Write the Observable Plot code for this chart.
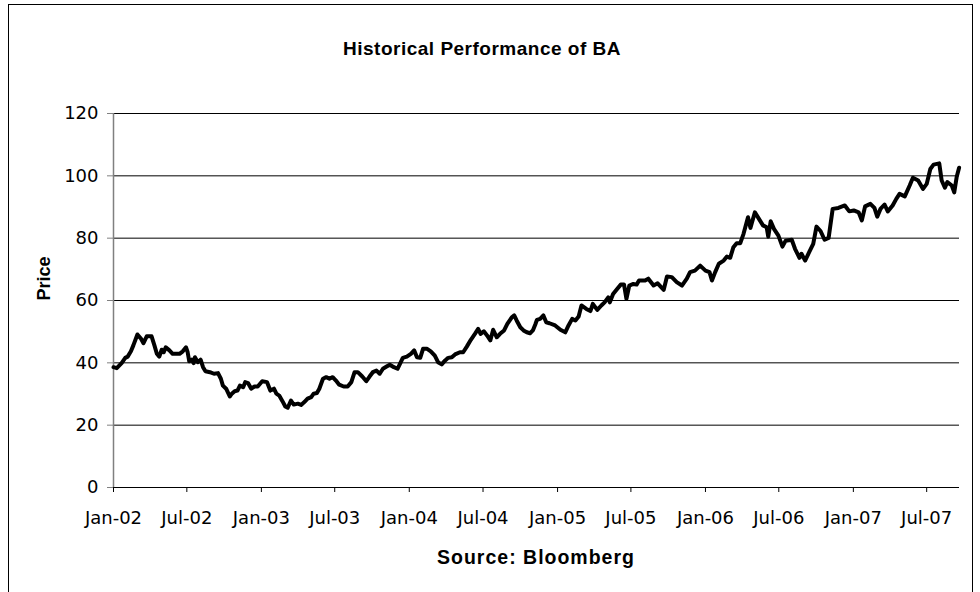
<!DOCTYPE html>
<html><head><meta charset="utf-8">
<script src="https://cdn.jsdelivr.net/npm/d3@7"></script>
<script src="https://cdn.jsdelivr.net/npm/@observablehq/plot@0.6"></script>
<style>
body{margin:0;background:#fff;}
#wrap{position:relative;width:980px;height:592px;overflow:hidden;background:#fff;}
#frame{position:absolute;left:8px;top:4px;width:965px;height:620px;border:1px solid #000;box-sizing:border-box;}
#title{position:absolute;left:0;width:964px;top:39px;text-align:center;font:bold 19px/19px "Liberation Sans",Arial,sans-serif;letter-spacing:0.5px;}
#chart{position:absolute;left:0;top:0;}
#source{position:absolute;left:113px;width:846px;top:548px;text-align:center;font:bold 19.5px/19.5px "Liberation Sans",Arial,sans-serif;letter-spacing:1px;}
</style></head>
<body>
<div id="wrap"><div id="frame"></div><div id="chart"></div>
<div id="title">Historical Performance of BA</div>
<div id="source">Source: Bloomberg</div></div>
<script>
const dates = ["2002-01-01","2002-01-09","2002-01-21","2002-01-30","2002-02-05","2002-02-13","2002-02-19","2002-03-01","2002-03-10","2002-03-16","2002-03-24","2002-04-05","2002-04-12","2002-04-18","2002-04-24","2002-04-30","2002-05-05","2002-05-10","2002-05-19","2002-05-27","2002-06-13","2002-06-21","2002-06-29","2002-07-03","2002-07-07","2002-07-13","2002-07-18","2002-07-21","2002-07-28","2002-08-04","2002-08-10","2002-08-16","2002-08-27","2002-09-06","2002-09-16","2002-09-23","2002-09-28","2002-10-06","2002-10-15","2002-10-20","2002-10-27","2002-11-03","2002-11-09","2002-11-17","2002-11-22","2002-11-29","2002-12-07","2002-12-15","2002-12-23","2003-01-03","2003-01-15","2003-01-23","2003-02-01","2003-02-07","2003-02-14","2003-02-22","2003-03-01","2003-03-07","2003-03-15","2003-03-22","2003-04-01","2003-04-09","2003-04-17","2003-04-25","2003-05-04","2003-05-10","2003-05-18","2003-05-24","2003-06-02","2003-06-10","2003-06-18","2003-06-26","2003-07-04","2003-07-12","2003-07-23","2003-08-02","2003-08-11","2003-08-19","2003-08-27","2003-09-07","2003-09-17","2003-09-25","2003-10-03","2003-10-12","2003-10-20","2003-10-28","2003-11-06","2003-11-14","2003-11-24","2003-12-03","2003-12-09","2003-12-16","2003-12-26","2004-01-05","2004-01-13","2004-01-20","2004-01-28","2004-02-04","2004-02-14","2004-02-23","2004-03-04","2004-03-12","2004-03-21","2004-03-29","2004-04-06","2004-04-15","2004-04-23","2004-05-05","2004-05-13","2004-05-22","2004-06-01","2004-06-11","2004-06-19","2004-06-25","2004-07-03","2004-07-11","2004-07-19","2004-07-26","2004-08-04","2004-08-12","2004-08-22","2004-08-30","2004-09-10","2004-09-16","2004-09-22","2004-10-01","2004-10-09","2004-10-17","2004-10-25","2004-11-01","2004-11-07","2004-11-11","2004-11-19","2004-11-27","2004-12-04","2004-12-12","2004-12-26","2005-01-08","2005-01-20","2005-01-28","2005-02-06","2005-02-14","2005-02-22","2005-03-01","2005-03-13","2005-03-23","2005-03-29","2005-04-09","2005-04-19","2005-04-27","2005-05-06","2005-05-10","2005-05-18","2005-05-28","2005-06-06","2005-06-14","2005-06-20","2005-06-27","2005-07-07","2005-07-15","2005-07-21","2005-08-05","2005-08-13","2005-08-26","2005-09-05","2005-09-20","2005-09-28","2005-10-10","2005-10-22","2005-11-04","2005-11-16","2005-11-24","2005-12-06","2005-12-19","2006-01-01","2006-01-11","2006-01-17","2006-01-25","2006-02-03","2006-02-15","2006-02-23","2006-03-03","2006-03-11","2006-03-19","2006-03-28","2006-04-05","2006-04-16","2006-04-22","2006-05-03","2006-05-13","2006-05-23","2006-06-01","2006-06-05","2006-06-11","2006-06-19","2006-06-30","2006-07-10","2006-07-18","2006-08-02","2006-08-10","2006-08-21","2006-08-26","2006-09-04","2006-09-14","2006-09-24","2006-10-02","2006-10-12","2006-10-22","2006-11-01","2006-11-11","2006-11-25","2006-12-11","2006-12-22","2007-01-02","2007-01-14","2007-01-22","2007-01-30","2007-02-12","2007-02-22","2007-03-01","2007-03-09","2007-03-19","2007-03-27","2007-04-08","2007-04-17","2007-04-25","2007-05-08","2007-05-20","2007-05-28","2007-06-10","2007-06-22","2007-07-01","2007-07-10","2007-07-18","2007-08-01","2007-08-07","2007-08-15","2007-08-21","2007-09-01","2007-09-07","2007-09-13","2007-09-19"];
const prices = [38.6,38.3,39.9,41.6,42.0,43.7,45.6,49.1,47.7,46.3,48.5,48.5,45.6,42.9,42.0,44.2,43.4,45.0,44.0,42.9,42.9,43.7,45.0,43.4,40.5,41.0,39.9,41.8,40.2,41.0,38.6,37.3,37.0,36.5,36.7,34.9,32.7,31.7,29.2,30.1,30.9,31.1,32.7,32.2,33.8,33.5,31.7,32.4,32.4,34.1,33.8,31.1,31.7,30.1,29.5,27.7,26.0,25.6,27.9,26.6,26.9,26.5,27.4,28.5,29.0,30.1,30.3,31.7,34.9,35.4,34.9,35.4,34.3,33.0,32.4,32.4,33.8,37.0,37.0,35.6,34.1,35.6,37.0,37.5,36.5,38.1,38.8,39.4,38.6,38.1,39.7,41.6,42.0,42.9,44.0,41.8,41.6,44.5,44.5,43.7,42.3,40.2,39.5,40.7,41.6,41.8,42.7,43.4,43.4,45.2,47.4,49.3,50.9,49.3,50.1,48.8,47.2,50.6,48.2,49.3,50.4,52.5,54.6,55.2,53.6,51.4,50.4,49.8,49.5,50.4,52.3,53.8,54.1,55.2,53.0,52.7,52.0,50.6,49.8,52.0,54.1,53.6,54.9,58.4,57.3,56.6,58.9,57.0,58.4,59.4,61.0,59.4,62.1,63.7,65.1,65.1,60.5,64.8,65.3,65.1,66.4,66.4,67.0,64.8,65.5,63.4,67.7,67.5,65.9,64.8,67.0,69.1,69.6,71.2,69.6,69.1,66.4,69.1,71.8,72.8,74.1,73.7,77.1,78.4,78.4,81.4,86.7,83.3,88.3,86.2,84.1,83.5,80.5,85.4,83.0,80.8,77.3,79.2,79.5,76.6,73.7,75.0,72.8,75.5,78.2,83.7,82.3,79.5,80.1,89.4,89.7,90.5,88.6,88.9,88.3,85.7,90.2,91.0,89.7,86.9,89.4,90.8,88.6,90.5,92.6,94.2,93.4,96.9,99.4,98.5,95.8,97.4,102.2,103.6,104.0,98.5,96.2,98.0,96.9,94.7,99.6,102.6];
const yTicks = [0, 20, 40, 60, 80, 100, 120];
const xTickDates = ["2002-01-01","2002-07-01","2003-01-01","2003-07-01","2004-01-01","2004-07-01","2005-01-01","2005-07-01","2006-01-01","2006-07-01","2007-01-01","2007-07-01"];
const xDomain = ["2002-01-01","2007-09-20"];

const data = dates.map((d, i) => ({date: new Date(d), price: prices[i]}));
const xStart = new Date(xDomain[0]);

const chart = Plot.plot({
  width: 980, height: 592,
  marginLeft: 113, marginRight: 21, marginTop: 113, marginBottom: 105,
  style: {fontFamily: "'DejaVu Sans', Verdana, sans-serif", fontSize: "18px", background: "transparent", color: "#000"},
  x: {type: "utc", domain: xDomain.map(d => new Date(d))},
  y: {domain: [0, 120]},
  marks: [
    Plot.ruleY(yTicks.filter(v => v > 0), {stroke: "#000", strokeWidth: 1}),
    Plot.ruleX([xStart], {stroke: "#808080", strokeWidth: 1.5}),
    Plot.ruleY([0], {stroke: "#000", strokeWidth: 1}),
    Plot.line(data, {x: "date", y: "price", stroke: "#000", strokeWidth: 4, strokeLinejoin: "round", strokeLinecap: "round"}),
    Plot.axisY({ticks: yTicks, tickSize: 6, tickPadding: 9, label: null, stroke: "#808080", fontSize: 18, fill: "#000"}),
    Plot.axisX({ticks: xTickDates.map(d => new Date(d)), tickSize: 5, tickPadding: 19, tickFormat: d3.utcFormat("%b-%y"), label: null, fontSize: 18, fill: "#000"}),
    Plot.text(["Price"], {frameAnchor: "left", dx: -69, rotate: -90, fontWeight: "bold", fontSize: 18, fontFamily: "'Liberation Sans', Arial, sans-serif"})
  ]
});
document.getElementById("chart").appendChild(chart);
</script>
</body></html>
